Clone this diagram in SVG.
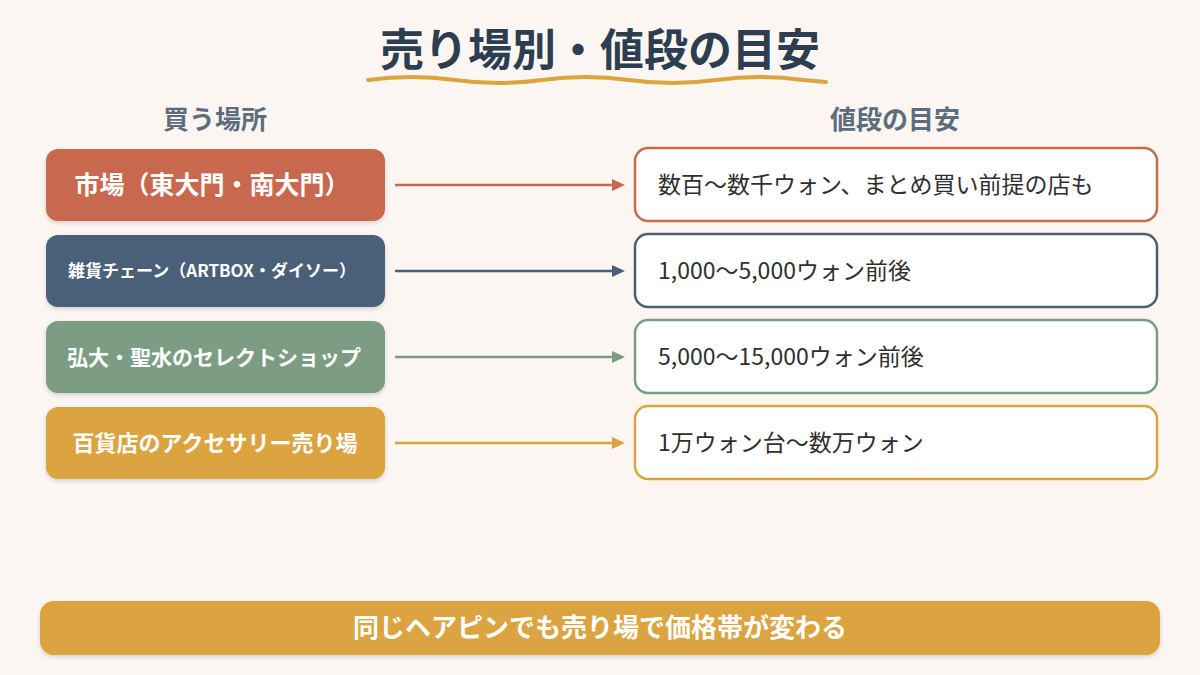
<svg xmlns="http://www.w3.org/2000/svg" width="1200" height="675" viewBox="0 0 1200 675">
<defs>
<filter id="sh" x="-10%" y="-20%" width="120%" height="150%">
<feDropShadow dx="0" dy="2" stdDeviation="2" flood-color="#000" flood-opacity="0.15"/>
</filter>
<style>
.jp{font-family:"Noto Sans CJK JP","Noto Sans",sans-serif}
.title{font-size:44px;font-weight:700;fill:#2c3e50}
.hdr{font-size:26px;font-weight:700;fill:#5d6d7e}
.lbl{font-weight:700;fill:#ffffff}
.val{font-size:23px;fill:#2f2f2f}
.conn{stroke-width:2.5;fill:none}
.vbox{fill:#ffffff;stroke-width:2.5}
</style>
</defs>
<rect x="0" y="0" width="1200" height="675" fill="#fbf6f1"/>
<g id="title">
<text class="jp title" x="600" y="66" text-anchor="middle">売り場別・値段の目安</text>
<path d="M368,80 C397,76 426,76 455,80 C484,84 513,84 542,80 C571,76 600,76 629,80 C658,84 687,84 716,80 C745,76 774,76 803,80 L826,82" stroke="#dba43f" stroke-width="4" fill="none" stroke-linecap="round"/>
</g>
<g id="headers">
<text class="jp hdr" x="215" y="129" text-anchor="middle">買う場所</text>
<text class="jp hdr" x="895" y="129" text-anchor="middle">値段の目安</text>
</g>
<g id="connectors">
<line class="conn" x1="395" y1="185" x2="612" y2="185" stroke="#c8694f"/>
<path d="M612,179 L625,185 L612,191 z" fill="#c8694f"/>
<line class="conn" x1="395" y1="271" x2="612" y2="271" stroke="#4a6078"/>
<path d="M612,265 L625,271 L612,277 z" fill="#4a6078"/>
<line class="conn" x1="395" y1="357" x2="612" y2="357" stroke="#7b9c84"/>
<path d="M612,351 L625,357 L612,363 z" fill="#7b9c84"/>
<line class="conn" x1="395" y1="443" x2="612" y2="443" stroke="#dba43f"/>
<path d="M612,437 L625,443 L612,449 z" fill="#dba43f"/>
</g>
<g id="place1">
<rect x="46" y="149" width="339" height="72" rx="12" fill="#c8694f" filter="url(#sh)"/>
<text class="jp lbl" x="212" y="194" text-anchor="middle" font-size="25">市場（東大門・南大門）</text>
</g>
<g id="place2">
<rect x="46" y="235" width="339" height="72" rx="12" fill="#4a6078" filter="url(#sh)"/>
<text class="jp lbl" x="212" y="277" text-anchor="middle" font-size="17">雑貨チェーン（ARTBOX・ダイソー）</text>
</g>
<g id="place3">
<rect x="46" y="321" width="339" height="72" rx="12" fill="#7b9c84" filter="url(#sh)"/>
<text class="jp lbl" x="214" y="365" text-anchor="middle" font-size="21">弘大・聖水のセレクトショップ</text>
</g>
<g id="place4">
<rect x="46" y="407" width="339" height="72" rx="12" fill="#dba43f" filter="url(#sh)"/>
<text class="jp lbl" x="215" y="451" text-anchor="middle" font-size="22">百貨店のアクセサリー売り場</text>
</g>
<g id="price1">
<rect class="vbox" x="635" y="148" width="522" height="73" rx="13" stroke="#c8694f"/>
<text class="jp val" x="658" y="193">数百〜数千ウォン、まとめ買い前提の店も</text>
</g>
<g id="price2">
<rect class="vbox" x="635" y="234" width="522" height="73" rx="13" stroke="#4a6078"/>
<text class="jp val" x="658" y="279">1,000〜5,000ウォン前後</text>
</g>
<g id="price3">
<rect class="vbox" x="635" y="320" width="522" height="73" rx="13" stroke="#7b9c84"/>
<text class="jp val" x="658" y="365">5,000〜15,000ウォン前後</text>
</g>
<g id="price4">
<rect class="vbox" x="635" y="406" width="522" height="73" rx="13" stroke="#dba43f"/>
<text class="jp val" x="658" y="451">1万ウォン台〜数万ウォン</text>
</g>
<g id="summary">
<rect x="40" y="601" width="1120" height="54" rx="14" fill="#dba43f" filter="url(#sh)"/>
<text class="jp lbl" x="600" y="637" text-anchor="middle" font-size="26">同じヘアピンでも売り場で価格帯が変わる</text>
</g>
</svg>
